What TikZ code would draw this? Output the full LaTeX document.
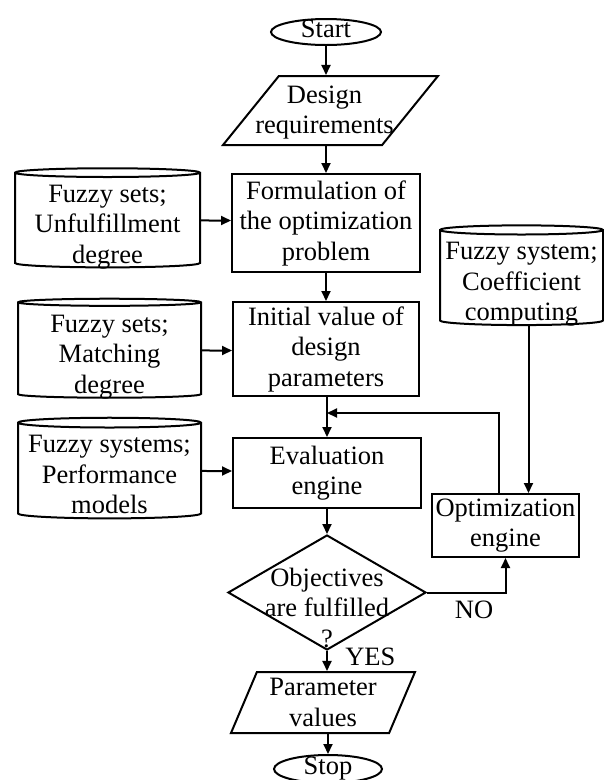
\documentclass[tikz,border=0pt]{standalone}
\usepackage{fontspec}
\setmainfont{Liberation Serif}
\usetikzlibrary{shapes.geometric,arrows.meta}

\begin{document}
\begin{tikzpicture}
[
x=1pt,y=1pt,
every node/.style={font=\fontsize{26.5}{30.5}\selectfont},
flow/.style={line width=2pt,-{Triangle[length=10pt,width=9pt]}},
inside/.style={align=center,yshift=#1},
terminal/.style 2 args={draw,ellipse,line width=2pt,inner xsep=0pt,inner ysep=-3pt,text height=17pt,text depth=6pt,minimum width=#1,minimum height=#2},
data/.style n args={3}{draw,trapezium,trapezium stretches body=true,trapezium left angle=#1,trapezium right angle={180-#1},line width=2pt,inner xsep=1pt,inner ysep=0pt,text height=#3,text depth=0pt,minimum width=#2},
process/.style 2 args={draw,rectangle,line width=2pt,inner sep=2pt,align=center,minimum width=#1,minimum height=#2},
storage/.style 2 args={draw,cylinder,shape border rotate=90,aspect=0.06,line width=2pt,inner sep=0pt,align=center,text height=85pt,text depth=0pt,minimum width=#1,minimum height=#2},
decision/.style={draw,diamond,line width=2pt,inner sep=0pt,minimum width=198pt,minimum height=115pt},
]
\useasboundingbox (0,0) rectangle (604,-780);

%Place the nodes
\node[terminal={110pt}{26pt}] (start) at (326,-32) {Start};
\node[data={51}{215pt}{69pt},label={[inside=-2pt,xshift=-6pt]center:Design\\requirements}] (design) at (330.5,-110.5) {};
\node[process={188pt}{98pt}] (form) at (326,-223) {Formulation of\\the optimization\\problem};
\node[storage={185pt}{99pt}] (unful) at (107.5,-220.5) {Fuzzy sets;\\Unfulfillment\\degree};
\node[process={186pt}{94pt}] (init) at (326,-349) {Initial value of\\design\\parameters};
\node[storage={183pt}{99pt}] (match) at (109.5,-350.5) {Fuzzy sets;\\Matching\\degree};
\node[process={188pt}{70pt}] (eval) at (327,-473) {Evaluation\\engine};
\node[storage={183pt}{98pt}] (perf) at (109.5,-471) {Fuzzy systems;\\Performance\\models};
\node[storage={163pt}{90pt}] (coef) at (521.5,-278) {Fuzzy system;\\Coefficient\\computing};
\node[process={147pt}{63pt}] (opt) at (505.5,-525.5) {Optimization\\engine};
\node[decision,label={[inside=-15pt]center:Objectives\\are fulfilled\\?}] (dec) at (327,-592.5) {};
\node[data={67}{184pt}{61pt},label={[inside=0pt]center:Parameter\\values}] (param) at (323,-702.5) {};
\node[terminal={108pt}{28pt}] (stop) at (328,-769) {Stop};
\coordinate (join) at (327,-413);

%Draw the connections
\draw[flow] (start.south) -- (start.south |- design.north);
\draw[flow] (form.north |- design.south) -- (form.north);
\draw[flow] (unful) -- (unful -| form.west);
\draw[flow] (form.south) -- (init.north);
\draw[flow] (match) -- (match -| init.west);
\draw[flow] (eval.north |- init.south) -- (eval.north);
\draw[flow] (perf) -- (perf -| eval.west);
\draw[flow] ([xshift=7pt]coef.south) -- ([xshift=7pt]coef.south |- opt.north);
\draw[flow] ([xshift=-6.5pt]opt.north) |- (join);
\draw[flow] (eval.south) -- (dec.north);
\draw[flow] (dec.east) -| node[pos=0.3,below=4pt] {NO} (opt.south);
\draw[flow] (dec.south) -- node[pos=0.3,right=14pt] {YES} (dec.south |- param.north);
\draw[flow] (stop.north |- param.south) -- (stop.north);
\end{tikzpicture}
\end{document}
